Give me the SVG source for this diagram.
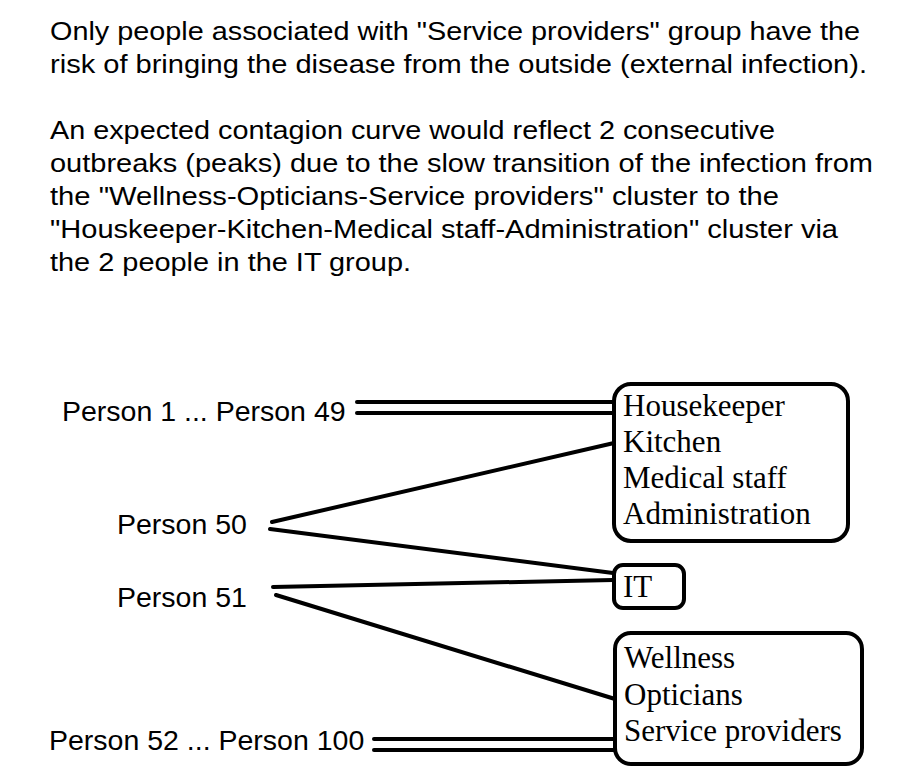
<svg xmlns="http://www.w3.org/2000/svg" width="923" height="775" viewBox="0 0 923 775">
<style>
.para{font-family:"Liberation Sans",Arial,sans-serif;font-size:25px;fill:#000}
.lbl{font-family:"Liberation Sans",Arial,sans-serif;font-size:28.5px;fill:#000}
.box{fill:#fff;stroke:#000;stroke-width:4}
.bt{font-family:"Liberation Serif","Times New Roman",serif;font-size:31px;fill:#000}
.conn line{stroke:#000;stroke-width:4;stroke-linecap:round}
</style>
<rect width="923" height="775" fill="#fff"/>
<g id="description">
<text class="para" x="50" y="40" textLength="810" lengthAdjust="spacingAndGlyphs">Only people associated with "Service providers" group have the</text>
<text class="para" x="50" y="73" textLength="817" lengthAdjust="spacingAndGlyphs">risk of bringing the disease from the outside (external infection).</text>
<text class="para" x="50" y="139" textLength="725" lengthAdjust="spacingAndGlyphs">An expected contagion curve would reflect 2 consecutive</text>
<text class="para" x="50" y="172" textLength="823" lengthAdjust="spacingAndGlyphs">outbreaks (peaks) due to the slow transition of the infection from</text>
<text class="para" x="50" y="205" textLength="729" lengthAdjust="spacingAndGlyphs">the "Wellness-Opticians-Service providers" cluster to the</text>
<text class="para" x="50" y="238" textLength="788" lengthAdjust="spacingAndGlyphs">"Houskeeper-Kitchen-Medical staff-Administration" cluster via</text>
<text class="para" x="50" y="271" textLength="361" lengthAdjust="spacingAndGlyphs">the 2 people in the IT group.</text>
</g>
<g class="conn" id="connectors">
<line x1="357" y1="402" x2="614" y2="402"/>
<line x1="357" y1="413" x2="614" y2="413"/>
<line x1="272" y1="522" x2="614" y2="443"/>
<line x1="270" y1="529" x2="613" y2="573"/>
<line x1="273" y1="587" x2="613" y2="580"/>
<line x1="276" y1="595" x2="615" y2="699"/>
<line x1="374" y1="739" x2="614" y2="739"/>
<line x1="374" y1="750" x2="614" y2="750"/>
</g>
<g id="p1-49"><text class="lbl" x="62" y="421">Person 1 ... Person 49</text></g>
<g id="p50"><text class="lbl" x="117" y="534">Person 50</text></g>
<g id="p51"><text class="lbl" x="117" y="607">Person 51</text></g>
<g id="p52-100"><text class="lbl" x="49" y="750">Person 52 ... Person 100</text></g>
<g id="cluster1">
<rect class="box" x="614" y="384" width="234" height="157" rx="17"/>
<text class="bt" x="623" y="416">Housekeeper</text>
<text class="bt" x="623" y="452">Kitchen</text>
<text class="bt" x="623" y="488">Medical staff</text>
<text class="bt" x="623" y="524">Administration</text>
</g>
<g id="it">
<rect class="box" x="614" y="565" width="70" height="43" rx="9"/>
<text class="bt" x="623" y="597">IT</text>
</g>
<g id="cluster2">
<rect class="box" x="615" y="633" width="247" height="131" rx="16"/>
<text class="bt" x="624" y="668">Wellness</text>
<text class="bt" x="624" y="704.5">Opticians</text>
<text class="bt" x="624" y="741">Service providers</text>
</g>
</svg>
